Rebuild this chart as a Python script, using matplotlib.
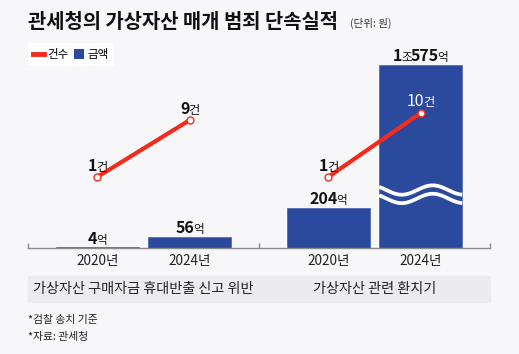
import re
import matplotlib
matplotlib.use("Agg")
import matplotlib.pyplot as plt
import numpy as np
from matplotlib.offsetbox import TextArea, HPacker, AnnotationBbox
from matplotlib.lines import Line2D
from matplotlib.patches import Patch, Rectangle
import matplotlib.transforms as mtransforms

plt.rcParams['font.family'] = ['Noto Sans CJK KR', 'DejaVu Sans']

# ---------------- data ----------------
title = "관세청의 가상자산 매개 범죄 단속실적"
unit_note = "(단위: 원)"
groups = ["가상자산 구매자금 휴대반출 신고 위반", "가상자산 관련 환치기"]
years = ["2020년", "2024년"]
amounts = [4, 56, 204, 10575]                 # 억 원
amount_labels = ["4억", "56억", "204억", "1조575억"]
counts = [1, 9, 1, 10]                        # 건
count_labels = ["1건", "9건", "1건", "10건"]
legend_labels = ["건수", "금액"]
footnotes = ["*검찰 송치 기준", "*자료: 관세청"]

# ---------------- style ----------------
W, H = 519, 354
BG = "#f7f7fa"
BLUE = "#2b499d"
RED = "#f42a1c"
BAND = "#ececf0"
BREAK_CAP = 935          # display cap for the broken bar (axis break)

fig = plt.figure(figsize=(W / 100, H / 100), dpi=100, facecolor=BG)
ax = fig.add_axes([28 / W, 1 - 248 / H, 462 / W, 188 / H])
ax.set_facecolor("none")

GROUP_STEP = 2.5
xpos = [g * GROUP_STEP + i for g in range(len(groups)) for i in range(len(years))]
bar_w = 0.9

disp = [min(v, BREAK_CAP) for v in amounts]
ax.bar(xpos, disp, width=bar_w, color=BLUE, edgecolor="#4862ad", linewidth=0.5, zorder=2)
ax.set_xlim(-0.75, (len(groups) - 1) * GROUP_STEP + len(years) - 1 + 0.75)
ax.set_ylim(0, 960)

# wave break on capped bar
for xi, v in zip(xpos, amounts):
    if v > BREAK_CAP:
        xs = np.linspace(xi - bar_w / 2, xi + bar_w / 2, 200)
        for yc in (296, 253):
            ys = yc + 24 * np.cos(2 * np.pi * (xs - xi - 0.13) / 0.67)
            ax.plot(xs, ys, color="white", lw=2.7, solid_capstyle="butt", zorder=3)

# spines/ticks
for s in ["top", "left", "right"]:
    ax.spines[s].set_visible(False)
ax.spines["bottom"].set_color("#8a8a8a")
ax.spines["bottom"].set_linewidth(1)
ax.set_yticks([])
ax.set_xticks(xpos)
ax.set_xticklabels(years * len(groups), fontsize=9.8, color="#222")
ax.tick_params(axis="x", which="major", length=0, pad=4.5)
sep = [-0.75 + GROUP_STEP * g for g in range(len(groups) + 1)]
sep[-1] = ax.get_xlim()[1]
ax.set_xticks(sep, minor=True)
ax.tick_params(axis="x", which="minor", direction="in", length=3.5, color="#8a8a8a", width=1)


def split_label(s):
    return re.findall(r"\d+|\D+", s)


def make_label(s, color, big=11.5, small=8.4, bold=True):
    parts = []
    for p in split_label(s):
        if p.isdigit():
            tp = dict(fontsize=big, fontweight="bold" if bold else "normal", color=color)
        else:
            tp = dict(fontsize=small, color=color)
        parts.append(TextArea(p, textprops=tp))
    return HPacker(children=parts, align="baseline", pad=0, sep=-0.9)


# amount labels
for xi, d, lab in zip(xpos, disp, amount_labels):
    box = make_label(lab, "#111")
    ab = AnnotationBbox(box, (xi, d), xybox=(0, 0.5), xycoords="data",
                        boxcoords="offset points", box_alignment=(0.5, 0),
                        frameon=False, pad=0, zorder=5)
    ax.add_artist(ab)

# counts line on twin axis
ax2 = ax.twinx()
ax2.set_ylim(-9, 17.46)
ax2.axis("off")
n = len(years)
for g in range(len(groups)):
    xs = xpos[g * n:(g + 1) * n]
    cs = counts[g * n:(g + 1) * n]
    ax2.plot(xs, cs, color=RED, lw=3, marker="o", ms=5, mfc="white",
             mec=RED, mew=1, zorder=4)

for xi, c, lab, v in zip(xpos, counts, count_labels, amounts):
    inside = v > BREAK_CAP
    col = "white" if inside else "#111"
    box = make_label(lab, col, big=11.5, small=8.8, bold=not inside)
    ab = AnnotationBbox(box, (xi, c), xybox=(0, 2), xycoords="data",
                        boxcoords="offset points", box_alignment=(0.5, 0),
                        frameon=False, pad=0, zorder=6)
    ax2.add_artist(ab)

# category band
fig.add_artist(Rectangle((28 / W, 1 - 302 / H), 462 / W, 26 / H,
                         transform=fig.transFigure, color=BAND, zorder=0))
bt = mtransforms.blended_transform_factory(ax.transData, fig.transFigure)
for g, name in enumerate(groups):
    cx = g * GROUP_STEP + (n - 1) / 2
    fig.text(cx, 1 - 289 / H, name, transform=bt, ha="center", va="center",
             fontsize=10.2, color="#222")

# title
fig.text(28 / W, 1 - 21 / H, title, ha="left", va="center", fontsize=14.3,
         fontweight="bold", color="#111")
fig.text(350 / W, 1 - 23 / H, unit_note, ha="left", va="center", fontsize=7.6,
         color="#333")

# legend
handles = [Line2D([], [], color=RED, lw=3.5), Patch(facecolor=BLUE)]
leg = fig.legend(handles, legend_labels, loc="upper left",
                 bbox_to_anchor=(28 / W, 1 - 43 / H), ncol=2, frameon=True,
                 facecolor="white", edgecolor="none", fancybox=False,
                 fontsize=8.3, handlelength=0.9, handleheight=0.9,
                 handletextpad=0.3, columnspacing=0.5, borderpad=0.45,
                 borderaxespad=0)
leg.get_frame().set_alpha(1)

# footnotes
for i, t in enumerate(footnotes):
    fig.text(28 / W, 1 - (320 + 17 * i) / H, t, ha="left", va="center",
             fontsize=7.8, color="#222")

fig.savefig("out.png", dpi=100, facecolor=fig.get_facecolor())
